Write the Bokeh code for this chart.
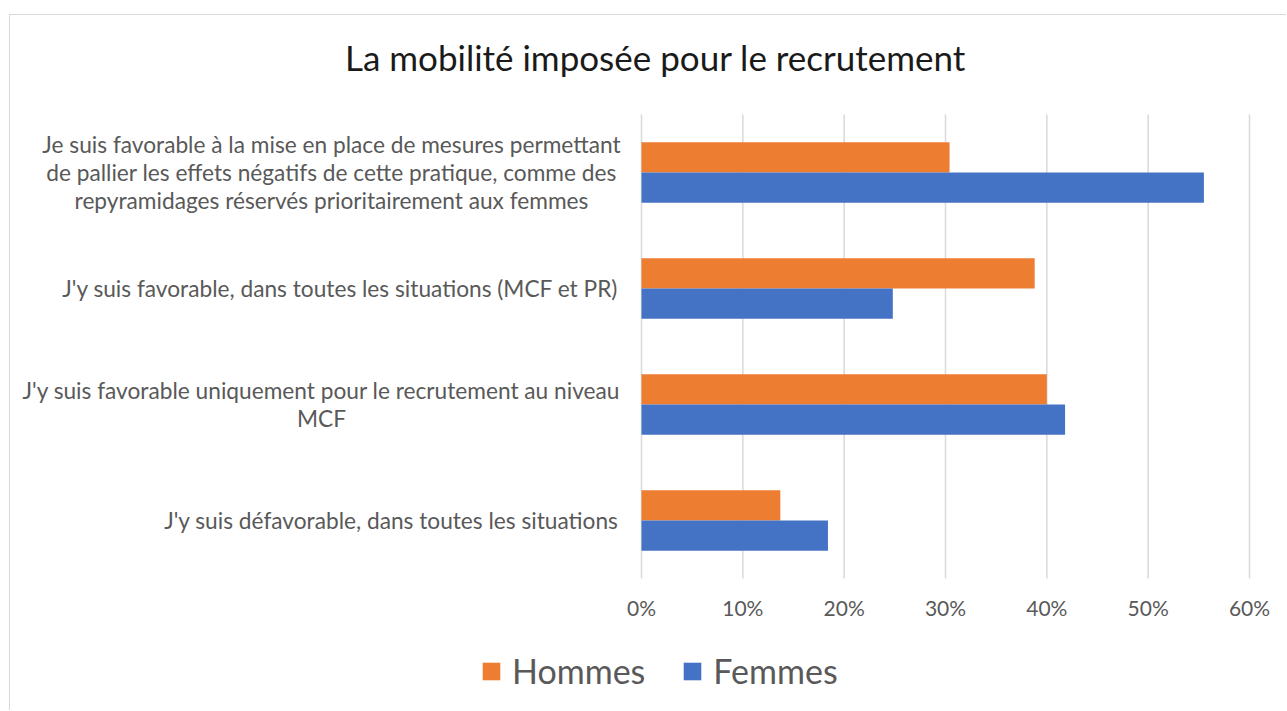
from bokeh.plotting import figure
from bokeh.models import (ColumnDataSource, Range1d, Legend, LegendItem,
                          NumeralTickFormatter, FixedTicker)
from bokeh.core.properties import value
from bokeh.embed import file_html
from bokeh.resources import INLINE

title_text = "La mobilité imposée pour le recrutement"
categories = [
    "Je suis favorable à la mise en place de mesures permettant\nde pallier les effets négatifs de cette pratique, comme des\nrepyramidages réservés prioritairement aux femmes",
    "J'y suis favorable, dans toutes les situations (MCF et PR)",
    "J'y suis favorable uniquement pour le recrutement au niveau\nMCF",
    "J'y suis défavorable, dans toutes les situations",
]
hommes = [0.304, 0.388, 0.400, 0.137]
femmes = [0.555, 0.248, 0.418, 0.184]
series_names = ["Hommes", "Femmes"]
x_ticks = [0.0, 0.1, 0.2, 0.3, 0.4, 0.5, 0.6]

ORANGE = "#ED7D31"
BLUE = "#4472C4"
GREY = "#595959"
FONT = "Lato"

# ---- layout (canvas pixels) ----
CANVAS_W, CANVAS_H = 1277, 696
X0_PX = 631            # canvas x of the value 0
PX_PER_X = 608 / 0.6   # pixels per unit of x
Y0_PX = 563            # canvas y of the bottom of the plot area
PX_PER_Y = 116         # pixels per category band

def px_x(px):
    return (px - X0_PX) / PX_PER_X

def px_y(py):
    return (Y0_PX - py) / PX_PER_Y

n = len(categories)
ypos = [n - 1 - i + 0.5 for i in range(n)]     # top category first
BAR_H = 0.26

lab_x, lab_align = [], []
for cat in categories:
    k = len(cat.split("\n"))
    if k == 3:
        lab_x.append(px_x(321)); lab_align.append("center")
    elif k == 2:
        lab_x.append(px_x(311)); lab_align.append("center")
    else:
        lab_x.append(px_x(608)); lab_align.append("right")

src = ColumnDataSource(dict(cat=categories, y=ypos,
                            yh=[v + BAR_H / 2 for v in ypos], yf=[v - BAR_H / 2 for v in ypos],
                            hommes=hommes, femmes=femmes, lx=lab_x, la=lab_align))

p = figure(width=CANVAS_W, height=CANVAS_H, output_backend="svg", toolbar_location=None,
           x_range=Range1d(px_x(0), px_x(CANVAS_W)), y_range=Range1d(px_y(CANVAS_H), px_y(0)),
           y_axis_location=None,
           min_border_left=0, min_border_right=0, min_border_top=0, min_border_bottom=0)
p.styles = {"border-top": "1px solid #d9d9d9", "border-left": "1px solid #d9d9d9",
            "margin-top": "14px", "margin-left": "9px"}

# vertical gridlines limited to the plot area
p.segment(x0=x_ticks, x1=x_ticks, y0=[0] * len(x_ticks), y1=[n] * len(x_ticks),
          line_color="#d9d9d9", line_width=1.5)

rh = p.hbar(y="yh", left=0, right="hommes", height=BAR_H, source=src,
            fill_color=ORANGE, line_color=None)
rf = p.hbar(y="yf", left=0, right="femmes", height=BAR_H, source=src,
            fill_color=BLUE, line_color=None)

p.text(x="lx", y="y", text="cat", source=src, text_align="la", text_baseline="middle",
       text_font=value(FONT), text_font_size="22.7px", text_color=GREY, text_line_height=1.03)

p.text(x=[px_x(645)], y=[px_y(41)], text=[title_text], text_align="center", text_baseline="middle",
       text_font=value(FONT), text_font_size="35px", text_color="#1a1a1a")

p.grid.visible = False
p.xaxis.fixed_location = 0
p.xaxis.ticker = FixedTicker(ticks=x_ticks)
p.xaxis.formatter = NumeralTickFormatter(format="0%")
p.xaxis.axis_line_color = None
p.xaxis.major_tick_line_color = None
p.xaxis.minor_tick_line_color = None
p.xaxis.major_label_text_font = FONT
p.xaxis.major_label_text_font_size = "21px"
p.xaxis.major_label_text_color = GREY
p.xaxis.major_label_standoff = 10
p.outline_line_color = None

legend = Legend(items=[LegendItem(label=series_names[0], renderers=[rh]),
                       LegendItem(label=series_names[1], renderers=[rf])],
                orientation="horizontal", location=(470, 20),
                label_text_font=FONT, label_text_font_size="34px", label_text_color=GREY,
                glyph_width=22, glyph_height=22, label_standoff=10, spacing=36,
                padding=0, margin=0, border_line_color=None, background_fill_alpha=0)
p.add_layout(legend)

open("out.html", "w").write(file_html(p, INLINE))
